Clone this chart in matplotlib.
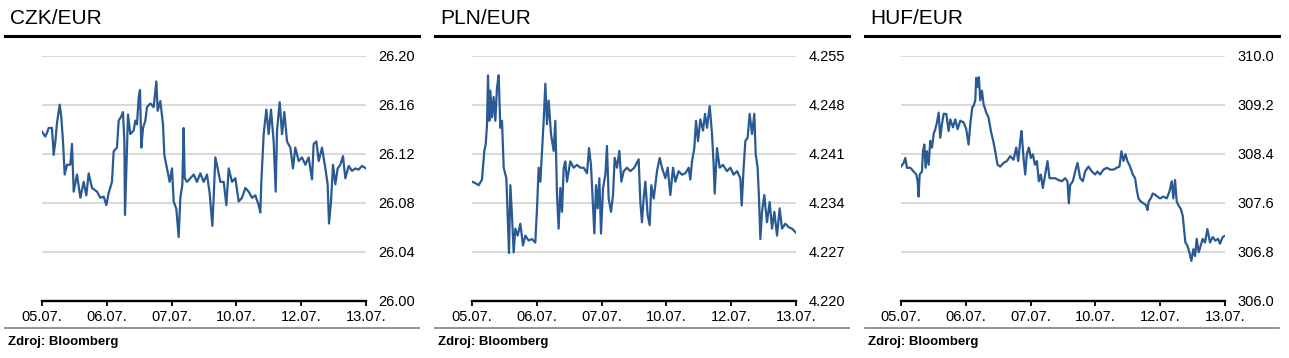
import numpy as np
import matplotlib.pyplot as plt
from matplotlib.lines import Line2D
from matplotlib.ticker import FormatStrFormatter

# Parametros gerais
plt.rcParams.update({"font.family": ["Liberation Sans", "DejaVu Sans"],
                     "font.size": 10})

dias = ["05.07.", "06.07.", "07.07.", "10.07.", "12.07.", "13.07."]

# Eixo x em dias de negociacao (0 = 05.07., 5 = 13.07.)
czk_x = [0, 0.051, 0.077, 0.103, 0.154, 0.180, 0.206, 0.231, 0.273, 0.298,
         0.324, 0.350, 0.386, 0.437, 0.463, 0.489, 0.540, 0.592, 0.643, 0.684,
         0.720, 0.772, 0.849, 0.900, 0.952, 0.993, 1.029, 1.080, 1.106, 1.157,
         1.183, 1.219, 1.250, 1.271, 1.281, 1.301, 1.327, 1.363, 1.415, 1.440,
         1.466, 1.492, 1.512, 1.533, 1.559, 1.595, 1.620, 1.672, 1.723, 1.764,
         1.785, 1.826, 1.867, 1.888, 1.929, 1.970, 2.006, 2.032, 2.073, 2.109,
         2.135, 2.166, 2.186, 2.202, 2.238, 2.289, 2.341, 2.392, 2.443, 2.495,
         2.546, 2.587, 2.629, 2.649, 2.675, 2.711, 2.752, 2.804, 2.845, 2.881,
         2.932, 2.984, 3.035, 3.086, 3.138, 3.189, 3.241, 3.292, 3.344, 3.369,
         3.385, 3.421, 3.462, 3.498, 3.534, 3.575, 3.606, 3.627, 3.668, 3.704,
         3.740, 3.781, 3.832, 3.873, 3.909, 3.961, 4.012, 4.064, 4.115, 4.167,
         4.192, 4.234, 4.270, 4.321, 4.373, 4.408, 4.429, 4.460, 4.491, 4.527,
         4.563, 4.604, 4.645, 4.681, 4.733, 4.784, 4.835, 4.887, 4.938, 5.000]
czk = [26.138, 26.134, 26.137, 26.141, 26.141, 26.119, 26.130, 26.145, 26.160, 26.150,
       26.130, 26.103, 26.111, 26.111, 26.128, 26.089, 26.103, 26.084, 26.097, 26.086,
       26.104, 26.092, 26.089, 26.084, 26.085, 26.078, 26.088, 26.097, 26.122, 26.125,
       26.147, 26.150, 26.154, 26.130, 26.070, 26.106, 26.152, 26.136, 26.139, 26.147,
       26.144, 26.166, 26.172, 26.125, 26.141, 26.147, 26.158, 26.161, 26.158, 26.179,
       26.155, 26.163, 26.144, 26.119, 26.108, 26.097, 26.108, 26.081, 26.075, 26.052,
       26.084, 26.095, 26.141, 26.100, 26.097, 26.100, 26.103, 26.097, 26.104, 26.097,
       26.103, 26.088, 26.061, 26.084, 26.117, 26.108, 26.097, 26.097, 26.078, 26.108,
       26.097, 26.100, 26.081, 26.084, 26.092, 26.089, 26.084, 26.086, 26.078, 26.072,
       26.097, 26.136, 26.156, 26.136, 26.156, 26.130, 26.089, 26.139, 26.162, 26.136,
       26.154, 26.130, 26.125, 26.108, 26.125, 26.114, 26.117, 26.111, 26.117, 26.099,
       26.128, 26.130, 26.114, 26.125, 26.108, 26.095, 26.063, 26.081, 26.111, 26.095,
       26.108, 26.111, 26.118, 26.100, 26.110, 26.106, 26.108, 26.107, 26.110, 26.108]

pln_x = [0, 0.051, 0.103, 0.154, 0.190, 0.211, 0.231, 0.247, 0.267, 0.283,
         0.309, 0.334, 0.360, 0.386, 0.412, 0.437, 0.463, 0.489, 0.530, 0.550,
         0.571, 0.592, 0.617, 0.643, 0.669, 0.705, 0.746, 0.787, 0.823, 0.874,
         0.926, 0.977, 1.003, 1.029, 1.055, 1.080, 1.106, 1.132, 1.157, 1.183,
         1.219, 1.260, 1.286, 1.312, 1.337, 1.363, 1.389, 1.415, 1.440, 1.466,
         1.517, 1.569, 1.620, 1.672, 1.723, 1.775, 1.806, 1.836, 1.862, 1.888,
         1.914, 1.939, 1.965, 1.991, 2.022, 2.058, 2.083, 2.109, 2.145, 2.176,
         2.202, 2.238, 2.274, 2.305, 2.341, 2.392, 2.443, 2.505, 2.572, 2.598,
         2.623, 2.649, 2.675, 2.711, 2.742, 2.767, 2.804, 2.855, 2.896, 2.932,
         2.984, 3.020, 3.061, 3.102, 3.138, 3.189, 3.241, 3.292, 3.344, 3.369,
         3.395, 3.431, 3.457, 3.488, 3.524, 3.565, 3.596, 3.627, 3.668, 3.704,
         3.729, 3.745, 3.781, 3.822, 3.873, 3.935, 3.987, 4.038, 4.090, 4.141,
         4.162, 4.192, 4.218, 4.254, 4.285, 4.321, 4.357, 4.378, 4.408, 4.429,
         4.450, 4.475, 4.511, 4.552, 4.594, 4.630, 4.666, 4.707, 4.748, 4.784,
         4.835, 4.887, 4.938, 5.000]
pln = [4.2370, 4.2368, 4.2365, 4.2373, 4.2414, 4.2423, 4.2450, 4.2522, 4.2457, 4.2500,
       4.2462, 4.2491, 4.2457, 4.2505, 4.2522, 4.2447, 4.2457, 4.2390, 4.2375, 4.2322,
       4.2268, 4.2365, 4.2322, 4.2269, 4.2303, 4.2293, 4.2310, 4.2279, 4.2293, 4.2286,
       4.2288, 4.2283, 4.2332, 4.2390, 4.2370, 4.2414, 4.2457, 4.2510, 4.2452, 4.2486,
       4.2438, 4.2414, 4.2457, 4.2351, 4.2303, 4.2361, 4.2327, 4.2390, 4.2399, 4.2370,
       4.2399, 4.2390, 4.2394, 4.2390, 4.2390, 4.2382, 4.2418, 4.2394, 4.2346, 4.2296,
       4.2365, 4.2332, 4.2375, 4.2296, 4.2361, 4.2380, 4.2421, 4.2346, 4.2327, 4.2351,
       4.2404, 4.2390, 4.2414, 4.2370, 4.2385, 4.2390, 4.2385, 4.2390, 4.2402, 4.2341,
       4.2312, 4.2346, 4.2370, 4.2322, 4.2308, 4.2365, 4.2346, 4.2385, 4.2404, 4.2390,
       4.2375, 4.2390, 4.2351, 4.2390, 4.2370, 4.2385, 4.2380, 4.2382, 4.2390, 4.2373,
       4.2399, 4.2418, 4.2457, 4.2428, 4.2459, 4.2443, 4.2467, 4.2447, 4.2478, 4.2438,
       4.2394, 4.2353, 4.2418, 4.2390, 4.2394, 4.2385, 4.2390, 4.2380, 4.2385, 4.2375,
       4.2336, 4.2390, 4.2428, 4.2433, 4.2467, 4.2438, 4.2467, 4.2409, 4.2390, 4.2346,
       4.2288, 4.2327, 4.2351, 4.2312, 4.2341, 4.2303, 4.2327, 4.2293, 4.2332, 4.2303,
       4.2310, 4.2305, 4.2303, 4.2297]

huf_x = [0, 0.041, 0.067, 0.092, 0.144, 0.195, 0.236, 0.257, 0.272, 0.288,
         0.324, 0.339, 0.360, 0.380, 0.401, 0.427, 0.452, 0.478, 0.504, 0.529,
         0.555, 0.581, 0.606, 0.632, 0.658, 0.699, 0.735, 0.761, 0.802, 0.838,
         0.874, 0.915, 0.966, 1.007, 1.043, 1.069, 1.100, 1.120, 1.146, 1.161,
         1.182, 1.202, 1.223, 1.249, 1.274, 1.316, 1.351, 1.387, 1.429, 1.454,
         1.490, 1.531, 1.583, 1.634, 1.686, 1.737, 1.778, 1.809, 1.840, 1.860,
         1.891, 1.917, 1.942, 1.973, 2.004, 2.035, 2.066, 2.097, 2.127, 2.158,
         2.189, 2.225, 2.261, 2.292, 2.328, 2.379, 2.431, 2.482, 2.533, 2.569,
         2.590, 2.610, 2.652, 2.688, 2.724, 2.765, 2.806, 2.842, 2.893, 2.945,
         2.996, 3.032, 3.073, 3.124, 3.176, 3.227, 3.279, 3.330, 3.371, 3.402,
         3.433, 3.464, 3.494, 3.535, 3.577, 3.613, 3.638, 3.664, 3.700, 3.741,
         3.782, 3.803, 3.823, 3.854, 3.885, 3.921, 3.957, 3.998, 4.049, 4.101,
         4.142, 4.178, 4.203, 4.229, 4.255, 4.281, 4.317, 4.347, 4.368, 4.389,
         4.419, 4.450, 4.481, 4.512, 4.538, 4.563, 4.594, 4.625, 4.656, 4.692,
         4.728, 4.769, 4.810, 4.851, 4.892, 4.923, 4.964, 5.000]
huf = [308.19, 308.25, 308.33, 308.17, 308.17, 308.11, 308.06, 307.95, 307.70, 308.06,
       308.11, 308.44, 308.55, 308.17, 308.44, 308.22, 308.61, 308.50, 308.72, 308.80,
       308.91, 309.07, 308.66, 308.88, 309.05, 309.05, 308.77, 308.96, 308.83, 308.96,
       308.80, 308.94, 308.91, 308.80, 308.55, 308.88, 309.16, 309.18, 309.27, 309.64,
       309.49, 309.65, 309.27, 309.43, 309.21, 309.07, 308.99, 308.77, 308.58, 308.44,
       308.22, 308.19, 308.25, 308.28, 308.36, 308.30, 308.50, 308.28, 308.61, 308.77,
       308.33, 308.06, 308.39, 308.50, 308.33, 308.39, 308.22, 308.28, 307.95, 308.06,
       307.84, 308.06, 308.28, 308.00, 308.00, 308.00, 307.97, 307.95, 308.00, 307.95,
       307.59, 307.89, 307.95, 308.11, 308.25, 308.00, 307.95, 308.11, 308.19, 308.11,
       308.06, 308.11, 308.06, 308.14, 308.17, 308.14, 308.14, 308.17, 308.19, 308.44,
       308.28, 308.39, 308.28, 308.19, 308.06, 308.00, 307.81, 307.67, 307.62, 307.59,
       307.56, 307.48, 307.62, 307.67, 307.75, 307.73, 307.70, 307.67, 307.70, 307.67,
       307.78, 307.95, 307.67, 307.97, 307.62, 307.56, 307.50, 307.39, 307.17, 306.95,
       306.90, 306.79, 306.65, 306.84, 306.73, 307.01, 306.79, 306.90, 307.01, 306.95,
       307.17, 306.95, 307.04, 306.98, 307.01, 306.93, 307.04, 307.06]

W, H = 1289, 358
fig = plt.figure(figsize=(W / 100, H / 100), dpi=100)

cor_linha = "#2a5a93"

paineis = [
    # titulo, x, y, limites y, formato, deslocamento do painel, borda esq/dir
    ("CZK/EUR", czk_x, czk, (26.00, 26.20), "%.2f", 0, 42, 366),
    ("PLN/EUR", pln_x, pln, (4.220, 4.255), "%.3f", 430, 472, 796),
    ("HUF/EUR", huf_x, huf, (306.0, 310.0), "%.1f", 860, 901, 1225),
]

topo, base = 55.7, 300.7

for titulo, x, y, lim, fmt, dx, esq, dir_ in paineis:
    ax = fig.add_axes([esq / W, 1 - base / H, (dir_ - esq) / W, (base - topo) / H])
    ax.plot(x, y, color=cor_linha, linewidth=1.6, zorder=3)

    ax.set_xlim(0, 5)
    ax.set_ylim(*lim)
    ax.set_xticks(range(len(dias)))
    ax.set_xticklabels(dias, fontsize=10.5)
    ax.set_yticks(np.linspace(lim[0], lim[1], 6))
    ax.yaxis.set_major_formatter(FormatStrFormatter(fmt))
    ax.yaxis.tick_right()
    ax.tick_params(axis="y", length=0, pad=9, labelsize=10.5)
    ax.tick_params(axis="x", length=3.5, width=1.3, pad=3, direction="out")

    ax.grid(axis="y", color="#d9d9d9", linewidth=1.4)
    ax.set_axisbelow(True)
    for lado in ["top", "left", "right"]:
        ax.spines[lado].set_visible(False)
    ax.spines["bottom"].set_linewidth(1.7)
    ax.spines["bottom"].set_zorder(4)

    # Titulo e linha preta
    fig.text((dx + 10) / W, 1 - 18 / H, titulo, fontsize=15, va="center")
    fig.add_artist(Line2D([(dx + 5) / W, (dx + 419) / W], [1 - 35.8 / H] * 2,
                          color="black", linewidth=2.2,
                          transform=fig.transFigure))
    # Linha cinza e fonte
    fig.add_artist(Line2D([(dx + 5) / W, (dx + 419) / W], [1 - 328 / H] * 2,
                          color="#8c8c8c", linewidth=1.3,
                          transform=fig.transFigure))
    fig.text((dx + 8) / W, 1 - 342 / H, "Zdroj: Bloomberg", fontsize=9.5,
             fontweight="bold", va="center")

fig.savefig("out.png", dpi=100)
